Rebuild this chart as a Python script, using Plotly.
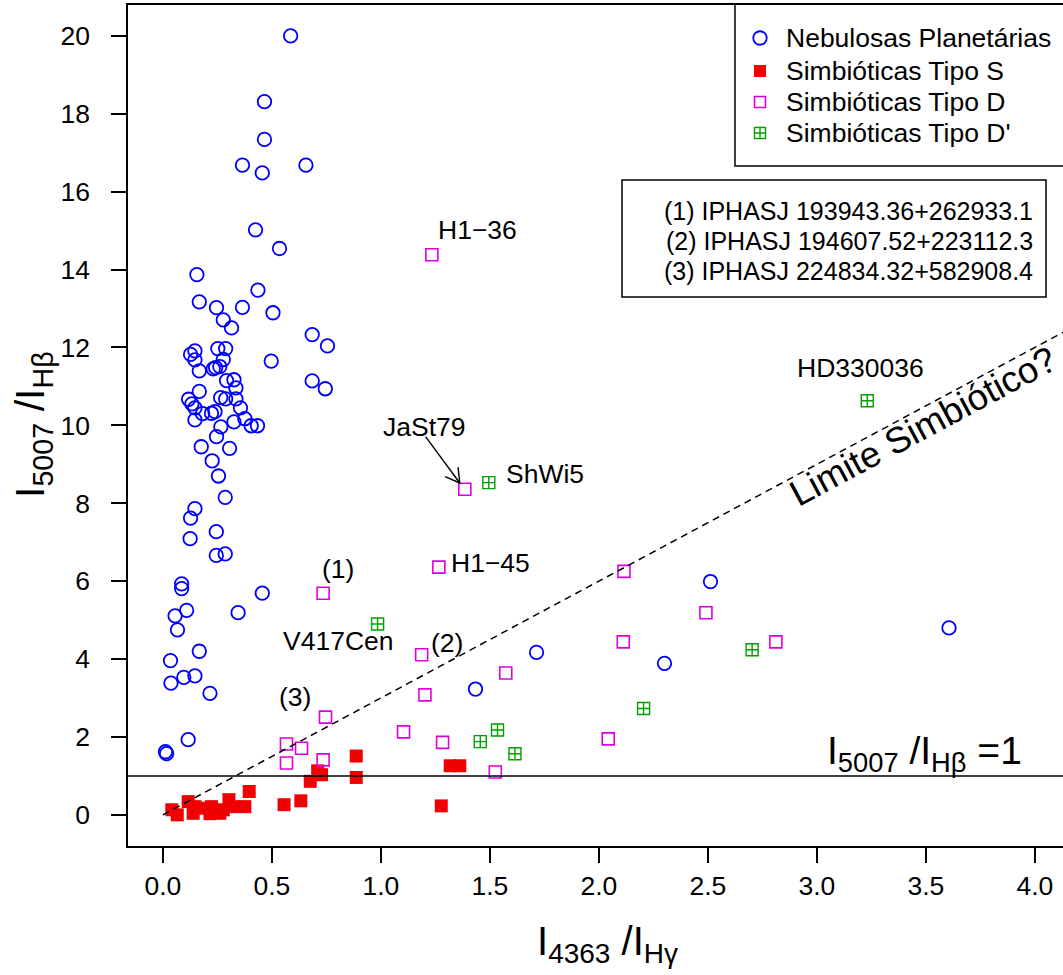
import math
import plotly.graph_objects as go

# ---------------- data ----------------
pn_x = [0.586, 0.466, 0.466, 0.365, 0.456, 0.656, 0.425, 0.535, 0.156, 0.436, 0.167,
        0.246, 0.365, 0.505, 0.277, 0.315, 0.685, 0.755, 0.147, 0.127, 0.252, 0.288,
        0.147, 0.277, 0.497, 0.167, 0.231, 0.242, 0.261, 0.685, 0.745, 0.292, 0.326,
        0.335, 0.167, 0.118, 0.133, 0.147, 0.265, 0.288, 0.335, 0.356, 0.182, 0.223,
        0.239, 0.147, 0.376, 0.326, 0.405, 0.434, 0.266, 0.246, 0.176, 0.306, 0.226,
        0.255, 0.286, 0.147, 0.127, 0.125, 0.245, 0.245, 0.286, 0.086, 0.086, 0.456,
        0.109, 0.056, 0.345, 0.067, 0.167, 0.035, 0.037, 0.096, 0.147, 0.216, 0.116,
        0.012, 0.017, 1.434, 2.512, 1.714, 2.301, 3.606]
pn_y = [20.00, 18.31, 17.34, 16.68, 16.48, 16.68, 15.02, 14.54, 13.87, 13.47, 13.17,
        13.02, 13.03, 12.89, 12.71, 12.50, 12.33, 12.04, 11.91, 11.82, 11.97, 11.97,
        11.68, 11.69, 11.65, 11.40, 11.45, 11.48, 11.51, 11.14, 10.94, 11.15, 11.17,
        10.96, 10.87, 10.67, 10.55, 10.45, 10.71, 10.68, 10.68, 10.45, 10.30, 10.31,
        10.35, 10.14, 10.17, 10.09, 9.99, 9.99, 9.96, 9.71, 9.45, 9.41, 9.09,
        8.70, 8.15, 7.86, 7.62, 7.09, 7.27, 6.66, 6.70, 5.93, 5.81, 5.69,
        5.25, 5.11, 5.19, 4.75, 4.20, 3.96, 3.38, 3.53, 3.57, 3.12, 1.93,
        1.62, 1.57, 3.23, 5.99, 4.17, 3.89, 4.80]

s_x = [0.041, 0.066, 0.116, 0.139, 0.147, 0.185, 0.223, 0.216, 0.261, 0.277, 0.303,
       0.330, 0.376, 0.396, 0.556, 0.633, 0.676, 0.710, 0.728, 0.887, 0.887, 1.318,
       1.362, 1.277]
s_y = [0.13, 0.00, 0.34, 0.04, 0.21, 0.17, 0.21, 0.03, 0.04, 0.13, 0.39,
       0.21, 0.21, 0.60, 0.26, 0.36, 0.86, 1.13, 1.03, 1.51, 0.96, 1.26,
       1.26, 0.23]

d_x = [1.234, 1.385, 1.266, 0.735, 1.187, 1.202, 0.746, 0.567, 0.636, 0.567, 0.735,
       1.104, 1.283, 1.573, 1.525, 2.115, 2.112, 2.491, 2.812, 2.043]
d_y = [14.38, 8.36, 6.36, 5.69, 4.11, 3.08, 2.51, 1.82, 1.71, 1.33, 1.41,
       2.13, 1.86, 3.64, 1.10, 6.25, 4.44, 5.19, 4.44, 1.95]

dp_x = [0.985, 1.495, 3.231, 1.456, 1.535, 1.615, 2.205, 2.703]
dp_y = [4.90, 8.53, 10.63, 1.88, 2.18, 1.57, 2.73, 4.24]

x_ticks = [0.0, 0.5, 1.0, 1.5, 2.0, 2.5, 3.0, 3.5, 4.0]
y_ticks = [0, 2, 4, 6, 8, 10, 12, 14, 16, 18, 20]

series_names = ["Nebulosas Planetárias", "Simbióticas Tipo S",
                "Simbióticas Tipo D", "Simbióticas Tipo D'"]
id_lines = ["(1) IPHASJ 193943.36+262933.1",
            "(2) IPHASJ 194607.52+223112.3",
            "(3) IPHASJ 224834.32+582908.4"]
point_labels = ["H1−36", "HD330036", "JaSt79", "ShWi5", "H1−45",
                "(1)", "V417Cen", "(2)", "(3)"]
label_x = [1.445, 3.20, 1.202, 1.752, 1.505, 0.803, 0.804, 1.304, 0.606]
label_y = [15.02, 11.47, 9.97, 8.75, 6.46, 6.32, 4.47, 4.42, 3.02]

# ---------------- layout geometry ----------------
W, H = 1063, 975                     # page / figure size (body margin removed)
PL, PR, PT, PB = 128, 1063, 5, 846   # plot area in pixels
plot_w = PR - PL
plot_h = PB - PT
L, T, B = PL, PT, H - PB
SX, SY = 218.0, 38.95                # px per data unit
x_min = -0.16
x_max = x_min + plot_w / SX
y_min = -0.8
y_max = y_min + plot_h / SY

FONT = "Liberation Sans, Arial, Helvetica, sans-serif"
BLUE = "#0000FF"
RED = "#F00000"
MAG = "#DD00DD"
GRN = "#00A000"


def ppx(px, py):
    """pixel -> paper"""
    return (px - PL) / plot_w, (PB - py) / plot_h


fig = go.Figure()

fig.add_trace(go.Scatter(x=pn_x, y=pn_y, mode="markers", name=series_names[0],
                         marker=dict(symbol="circle-open", size=13.5, color=BLUE,
                                     line=dict(width=1.8, color=BLUE))))
fig.add_trace(go.Scatter(x=s_x, y=s_y, mode="markers", name=series_names[1],
                         marker=dict(symbol="square", size=13, color=RED,
                                     line=dict(width=0))))
fig.add_trace(go.Scatter(x=d_x, y=d_y, mode="markers", name=series_names[2],
                         marker=dict(symbol="square-open", size=12, color=MAG,
                                     line=dict(width=1.6, color=MAG))))
fig.add_trace(go.Scatter(x=dp_x, y=dp_y, mode="markers", name=series_names[3],
                         marker=dict(symbol="square-cross-open", size=12, color=GRN,
                                     line=dict(width=1.4, color=GRN))))

shapes = []
# horizontal line y = 1
shapes.append(dict(type="line", xref="paper", yref="y", x0=0, x1=1, y0=1, y1=1,
                   line=dict(color="black", width=1.5)))
# dashed limit y = 3x
shapes.append(dict(type="line", xref="x", yref="y", x0=0, y0=0, x1=x_max, y1=3 * x_max,
                   line=dict(color="black", width=1.5, dash="7px,5px")))

# arrow JaSt79
tail = (1.205, 9.71)
tip = (1.362, 8.52)
shapes.append(dict(type="line", xref="x", yref="y", x0=tail[0], y0=tail[1],
                   x1=tip[0], y1=tip[1], line=dict(color="black", width=1.4)))
dxp = (tip[0] - tail[0]) * SX
dyp = -(tip[1] - tail[1]) * SY
ln = math.hypot(dxp, dyp)
ux, uy = -dxp / ln, -dyp / ln
for ang in (math.radians(30), math.radians(-30)):
    rx = ux * math.cos(ang) - uy * math.sin(ang)
    ry = ux * math.sin(ang) + uy * math.cos(ang)
    hx = tip[0] + rx * 16 / SX
    hy = tip[1] - ry * 16 / SY
    shapes.append(dict(type="line", xref="x", yref="y", x0=tip[0], y0=tip[1],
                       x1=hx, y1=hy, line=dict(color="black", width=1.4)))

# legend boxes (pixel overlay axes)
shapes.append(dict(type="rect", xref="x2", yref="y2", x0=735, x1=1120, y0=3, y1=166,
                   line=dict(color="black", width=1.5), fillcolor="white", layer="below"))
shapes.append(dict(type="rect", xref="x2", yref="y2", x0=622, x1=1046, y0=180, y1=297,
                   line=dict(color="black", width=1.5), fillcolor="white", layer="below"))

# legend markers
leg_y = [38, 71, 102, 133]
leg_styles = [
    dict(symbol="circle-open", size=13.5, color=BLUE, line=dict(width=1.8, color=BLUE)),
    dict(symbol="square", size=12, color=RED, line=dict(width=0)),
    dict(symbol="square-open", size=11, color=MAG, line=dict(width=1.6, color=MAG)),
    dict(symbol="square-cross-open", size=11, color=GRN, line=dict(width=1.4, color=GRN)),
]
for yy, st in zip(leg_y, leg_styles):
    fig.add_trace(go.Scatter(x=[760], y=[yy], xaxis="x2", yaxis="y2", mode="markers",
                             marker=st, showlegend=False, hoverinfo="skip"))

annotations = []
for name, yy in zip(series_names, leg_y):
    annotations.append(dict(text=name, xref="x2", yref="y2", x=784, y=yy,
                            xanchor="left", yanchor="middle", showarrow=False,
                            font=dict(family=FONT, size=26.5, color="black")))
for i, line in enumerate(id_lines):
    annotations.append(dict(text=line, xref="x2", yref="y2", x=1035, y=211 + 30 * i,
                            xanchor="right", yanchor="middle", showarrow=False,
                            font=dict(family=FONT, size=25, color="black")))

for t, xx, yy in zip(point_labels, label_x, label_y):
    annotations.append(dict(text=t, x=xx, y=yy, xref="x", yref="y", showarrow=False,
                            xanchor="center", yanchor="middle",
                            font=dict(family=FONT, size=26.5, color="black")))

annotations.append(dict(text="Limite Simbiótico?", x=3.485, y=9.97, xref="x", yref="y",
                        showarrow=False, textangle=-28.2, xanchor="center", yanchor="middle",
                        font=dict(family=FONT, size=36.5, color="black")))
annotations.append(dict(text="I<sub>5007</sub> /I<sub>Hβ</sub> =1", x=3.495, y=1.0,
                        xref="x", yref="y", showarrow=False, xanchor="center",
                        yanchor="bottom", yshift=-4,
                        font=dict(family=FONT, size=39, color="black")))

ax_, ay_ = ppx(33, 425)
annotations.append(dict(text="I<sub>5007</sub> /I<sub>Hβ</sub>", x=ax_, y=ay_,
                        xref="paper", yref="paper", showarrow=False, textangle=-90,
                        xanchor="center", yanchor="middle",
                        font=dict(family=FONT, size=41, color="black")))
bx_, by_ = ppx(607, 944)
annotations.append(dict(text="I<sub>4363</sub> /I<sub>Hγ</sub>", x=bx_, y=by_,
                        xref="paper", yref="paper", showarrow=False,
                        xanchor="center", yanchor="middle",
                        font=dict(family=FONT, size=40, color="black")))

fig.update_layout(
    width=W, height=H,
    margin=dict(l=L, r=0, t=T, b=B, pad=0, autoexpand=False),
    paper_bgcolor="white", plot_bgcolor="white",
    showlegend=False,
    font=dict(family=FONT, size=26.5, color="black"),
    xaxis=dict(range=[x_min, x_max], tickvals=x_ticks,
               ticktext=[f"{v:.1f}" for v in x_ticks],
               showgrid=False, zeroline=False, showline=True, mirror=True,
               linecolor="black", linewidth=1.5, ticks="outside", ticklen=15,
               tickwidth=1.5, tickcolor="black", ticklabelstandoff=0,
               tickfont=dict(family=FONT, size=26.5, color="black")),
    yaxis=dict(range=[y_min, y_max], tickvals=y_ticks,
               ticktext=[str(v) for v in y_ticks],
               showgrid=False, zeroline=False, showline=True, mirror=False,
               linecolor="black", linewidth=1.5, ticks="outside", ticklen=15,
               tickwidth=1.5, tickcolor="black", ticklabelstandoff=16,
               tickfont=dict(family=FONT, size=26.5, color="black")),
    xaxis2=dict(overlaying="x", range=[PL, PR], visible=False, anchor="y2"),
    yaxis2=dict(overlaying="y", range=[PB, PT], visible=False, anchor="x2"),
    shapes=shapes,
    annotations=annotations,
)

fig.write_html(
    "out.html",
    config=dict(displayModeBar=False),
    post_script=("document.documentElement.style.margin='0';"
                 "document.body.style.margin='0';"
                 "document.body.style.overflow='hidden';"
                 "document.documentElement.style.overflow='hidden';"),
)
